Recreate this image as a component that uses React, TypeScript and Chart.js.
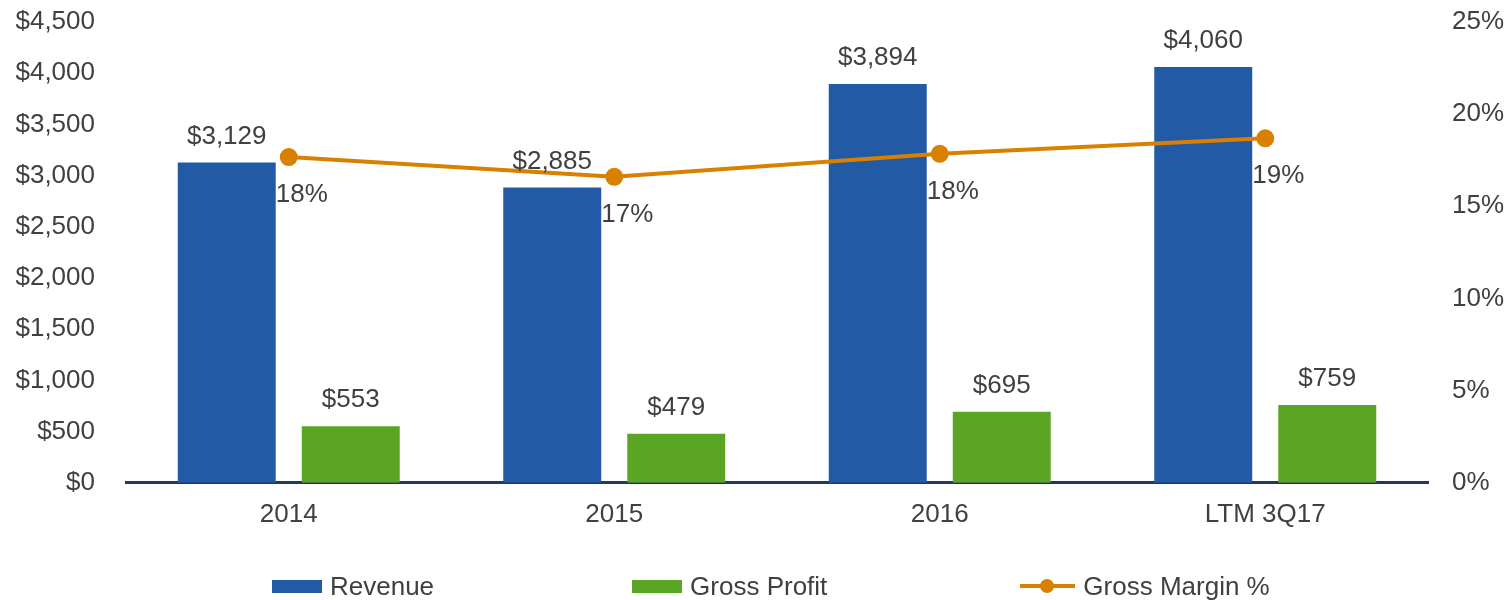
import React, { useEffect, useRef } from 'react';
import { Chart, registerables } from 'chart.js';

Chart.register(...registerables);

const categories = ['2014', '2015', '2016', 'LTM 3Q17'];
const revenue = [3129, 2885, 3894, 4060];
const grossProfit = [553, 479, 695, 759];
const grossMargin = [0.1767, 0.166, 0.1785, 0.1869];
const seriesNames = ['Revenue', 'Gross Profit', 'Gross Margin %'];

const BLUE = '#235AA6';
const GREEN = '#5AA624';
const ORANGE = '#D98000';
const TEXT = '#404040';
const AXIS = '#1F3864';
const FONT = '"Liberation Sans", Arial, sans-serif';

const valueLabels = {
  id: 'valueLabels',
  afterDatasetsDraw(chart: any) {
    const ctx = chart.ctx;
    ctx.save();
    ctx.font = `26px ${FONT}`;
    ctx.fillStyle = TEXT;
    ctx.textBaseline = 'middle';
    chart.data.datasets.forEach((ds: any, i: number) => {
      const meta = chart.getDatasetMeta(i);
      meta.data.forEach((el: any, j: number) => {
        const v = ds.data[j];
        if (meta.type === 'bar') {
          ctx.textAlign = 'center';
          ctx.fillText('$' + v.toLocaleString('en-US'), el.x, el.y - 26);
        } else {
          ctx.textAlign = 'left';
          ctx.fillText(Math.round(v * 100) + '%', el.x - 13, el.y + 38);
        }
      });
    });
    ctx.restore();
  },
};

export default function App() {
  const ref = useRef<HTMLCanvasElement>(null);

  useEffect(() => {
    document.body.style.margin = '0';
    const chart = new Chart(ref.current as HTMLCanvasElement, {
      type: 'bar',
      data: {
        labels: categories,
        datasets: [
          {
            type: 'bar',
            label: seriesNames[0],
            data: revenue,
            backgroundColor: BLUE,
            yAxisID: 'y',
            order: 2,
            categoryPercentage: 0.762,
            barPercentage: 0.79,
          } as any,
          {
            type: 'bar',
            label: seriesNames[1],
            data: grossProfit,
            backgroundColor: GREEN,
            yAxisID: 'y',
            order: 2,
            categoryPercentage: 0.762,
            barPercentage: 0.79,
          } as any,
          {
            type: 'line',
            label: seriesNames[2],
            data: grossMargin,
            borderColor: ORANGE,
            backgroundColor: ORANGE,
            borderWidth: 4,
            pointRadius: 7,
            pointBackgroundColor: ORANGE,
            pointBorderColor: ORANGE,
            yAxisID: 'y1',
            order: 1,
            tension: 0,
          } as any,
        ],
      },
      options: {
        animation: false,
        responsive: true,
        maintainAspectRatio: false,
        layout: { padding: { left: 15, right: 5, top: 22, bottom: 54 } },
        plugins: {
          legend: { display: false },
          tooltip: { enabled: false },
        },
        scales: {
          x: {
            grid: { display: false, drawTicks: false },
            border: { display: true, color: AXIS, width: 3 },
            ticks: { color: TEXT, font: { size: 26, family: FONT }, padding: 16 },
          },
          y: {
            position: 'left',
            min: 0,
            max: 4500,
            grid: { display: false, drawTicks: false },
            border: { display: false },
            afterFit: (scale: any) => {
              scale.width = 111;
              scale.paddingTop = 0;
              scale.paddingBottom = 0;
            },
            ticks: {
              stepSize: 500,
              color: TEXT,
              font: { size: 26, family: FONT },
              padding: 31,
              callback: (v: any) => '$' + Number(v).toLocaleString('en-US'),
            },
          },
          y1: {
            position: 'right',
            min: 0,
            max: 0.25,
            grid: { display: false, drawTicks: false },
            border: { display: false },
            afterFit: (scale: any) => {
              scale.width = 76;
              scale.paddingTop = 0;
              scale.paddingBottom = 0;
            },
            ticks: {
              stepSize: 0.05,
              color: TEXT,
              font: { size: 26, family: FONT },
              padding: 24,
              callback: (v: any) => Math.round(Number(v) * 100) + '%',
            },
          },
        },
      } as any,
      plugins: [valueLabels],
    });
    return () => chart.destroy();
  }, []);

  const legendText: React.CSSProperties = {
    fontFamily: FONT,
    fontSize: 26,
    color: TEXT,
    lineHeight: '30px',
    marginLeft: 8,
  };

  return (
    <div style={{ position: 'fixed', left: 0, top: 0, width: 1509, height: 600, background: '#fff' }}>
      <canvas ref={ref} style={{ position: 'absolute', left: 0, top: 0, width: 1509, height: 600 }} />
      <div
        style={{
          position: 'absolute',
          left: 272,
          top: 571,
          display: 'flex',
          alignItems: 'center',
          whiteSpace: 'nowrap',
        }}
      >
        <div style={{ display: 'flex', alignItems: 'center' }}>
          <div style={{ width: 50, height: 13, background: BLUE }} />
          <span style={legendText}>{seriesNames[0]}</span>
        </div>
        <div style={{ display: 'flex', alignItems: 'center', marginLeft: 198 }}>
          <div style={{ width: 50, height: 13, background: GREEN }} />
          <span style={legendText}>{seriesNames[1]}</span>
        </div>
        <div style={{ display: 'flex', alignItems: 'center', marginLeft: 193 }}>
          <div style={{ position: 'relative', width: 55, height: 16 }}>
            <div style={{ position: 'absolute', left: 0, top: 6, width: 55, height: 4, background: ORANGE }} />
            <div
              style={{
                position: 'absolute',
                left: 20,
                top: 1,
                width: 14,
                height: 14,
                borderRadius: 7,
                background: ORANGE,
              }}
            />
          </div>
          <span style={legendText}>{seriesNames[2]}</span>
        </div>
      </div>
    </div>
  );
}
